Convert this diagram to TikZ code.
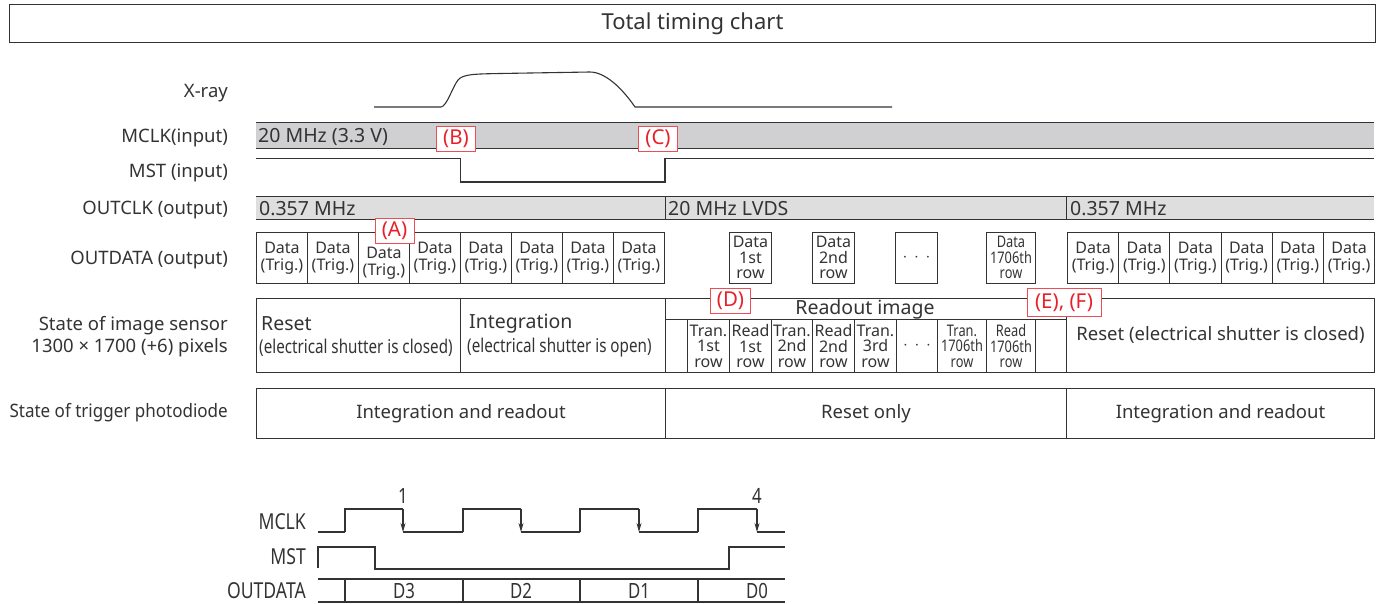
\documentclass[tikz,border=0pt]{standalone}
\usepackage{fontspec}
\setmainfont{Noto Sans}
\newfontfamily\narrowfont[FakeStretch=0.8]{Noto Sans}
\newfontfamily\midfont[FakeStretch=0.92]{Noto Sans}
\usetikzlibrary{arrows.meta}
\definecolor{ink}{HTML}{333333}
\definecolor{tagred}{HTML}{E8202A}
\definecolor{barA}{HTML}{D0D0D2}
\definecolor{barB}{HTML}{DEDEDE}
\tikzset{
  frame/.style={draw=ink, line width=1pt, inner sep=0pt, anchor=north west, align=center},
  bar/.style={fill=#1, inner sep=0pt, anchor=north west},
  lbl/.style={anchor=east, inner sep=0pt, yshift=-2pt, font=\fontsize{18.5}{22}\selectfont},
  val/.style={anchor=west, inner sep=0pt, yshift=-1.5pt, font=\fontsize{19.5}{22}\selectfont},
  small/.style={inner sep=0pt, align=center, font=\fontsize{16}{17}\selectfont},
  tiny/.style={inner sep=0pt, align=center, font=\fontsize{16}{15.5}\selectfont},
  tag/.style={draw=tagred!80, fill=white, text=tagred, inner sep=0pt, minimum height=25pt,
    font=\fontsize{20.5}{22}\selectfont},
  wave/.style={line width=1.1pt, color=ink}
}
\begin{document}
\begin{tikzpicture}[x=1pt, y=-1pt, color=ink]
\useasboundingbox (0,0) rectangle (1382,603);

\node[frame, minimum width=1366pt, minimum height=38pt, font=\fontsize{22}{26}\selectfont] (title) at (9,4) {\raisebox{-1.5pt}{Total timing chart}};

\node[lbl] (lxray) at (228,91) {X-ray};
\node[lbl] (lmclk) at (228,136) {MCLK(input)};
\node[lbl] (lmst) at (228,171) {MST (input)};
\node[lbl] (loutclk) at (228,208) {OUTCLK (output)};
\node[lbl] (loutdata) at (228,258) {OUTDATA (output)};
\node[lbl, align=right] (lsensor) at (228,335) {State of image sensor\\1300 × 1700 (+6) pixels};
\node[lbl, font=\midfont\fontsize{18.5}{22}\selectfont] (lphoto) at (228,411) {State of trigger photodiode};

\draw[wave] (374,107) -- (441,107) .. controls (447,106) and (452,88) .. (458,80)
  .. controls (463,74) and (475,74) .. (500,73.5) -- (590,72)
  .. controls (605,72) and (622,88) .. (635,107) -- (892,107);

\node[bar=barA, minimum width=1118pt, minimum height=26pt] (mclk) at (256,122) {};
\draw (mclk.north west) -- (mclk.north east) (mclk.south west) -- (mclk.south east);
\node[val] (mclkval) at (258,135.5) {20 MHz (3.3 V)};

\draw[wave] (256,158.5) -- (460.5,158.5) -- (460.5,182) -- (665,182) -- (665,158.5) -- (1374,158.5);

\node[bar=barB, minimum width=409pt, minimum height=23pt] (oc1) at (256,196) {};
\node[bar=barB, minimum width=401pt, minimum height=23pt] (oc2) at (665,196) {};
\node[bar=barB, minimum width=308pt, minimum height=23pt] (oc3) at (1066,196) {};
\draw (oc1.north west) -- (oc3.north east) (oc1.south west) -- (oc3.south east);
\draw (oc2.north west) -- (oc2.south west) (oc3.north west) -- (oc3.south west);
\node[val] (ocval1) at (259,207.5) {0.357 MHz};
\node[val] (ocval2) at (668,207.5) {20 MHz LVDS};
\node[val] (ocval3) at (1070,207.5) {0.357 MHz};

\foreach \i/\dy in {0/0,1/0,2/5,3/0,4/0,5/0,6/0,7/0}{
  \node[frame, minimum width=51pt, minimum height=51.5pt] (dl\i) at ({256+51*\i},231.5) {};
  \node[small] at ([yshift=-\dy pt-0.5pt]dl\i.center) {Data\\(Trig.)};
}
\foreach \i in {0,...,5}{
  \node[frame, minimum width=51.2pt, minimum height=51.5pt] (dr\i) at ({1067+51.2*\i},231.5) {};
  \node[small] at ([yshift=-0.5pt]dr\i.center) {Data\\(Trig.)};
}
\node[frame, minimum width=42pt, minimum height=51.5pt, font=\fontsize{16}{15.5}\selectfont] (dm1) at (729,231.5) {Data\\1st\\row};
\node[frame, minimum width=42pt, minimum height=51.5pt, font=\fontsize{16}{15.5}\selectfont] (dm2) at (812,231.5) {Data\\2nd\\row};
\node[frame, minimum width=42pt, minimum height=51.5pt, font=\fontsize{16}{15.5}\selectfont] (dm3) at (895,231.5) {$\cdot\,\cdot\,\cdot$};
\node[frame, minimum width=49pt, minimum height=51.5pt, font=\narrowfont\fontsize{16}{15.5}\selectfont] (dm4) at (986,231.5) {Data\\1706th\\row};

\node[frame, minimum width=204pt, minimum height=74.5pt] (sreset) at (256,297.5) {};
\node[frame, minimum width=205pt, minimum height=74.5pt] (sinteg) at (460,297.5) {};
\node[frame, minimum width=401pt, minimum height=74.5pt] (sread) at (665,297.5) {};
\node[frame, minimum width=308pt, minimum height=74.5pt, font=\fontsize{18.5}{22}\selectfont] (sreset2) at (1066,297.5) {\raisebox{-2pt}{Reset (electrical shutter is closed)}};
\node[val] (tresetA) at (261,322) {Reset};
\node[val, font=\narrowfont\fontsize{19}{22}\selectfont] (tresetB) at (259,346) {(electrical shutter is closed)};
\node[val] (tintegA) at (469,322) {Integration};
\node[val, font=\narrowfont\fontsize{19}{22}\selectfont] (tintegB) at (467,346) {(electrical shutter is open)};
\draw ([yshift=-21.8pt]sread.north west) -- ([yshift=-21.8pt]sread.north east);
\node[val, anchor=center] (treadout) at (865,308) {Readout image};
\foreach \x/\w/\t [count=\k] in {687/42/{Tran.\\1st\\row}, 729/42/{Read\\1st\\row},
    771/41/{Tran.\\2nd\\row}, 812/42/{Read\\2nd\\row}, 854/42/{Tran.\\3rd\\row},
    896/41/{$\cdot\,\cdot\,\cdot$}}
  \node[frame, tiny, minimum width=\w pt, minimum height=52.7pt] (rc\k) at (\x,319.3) {\t};
\node[frame, tiny, font=\narrowfont\fontsize{16}{15.5}\selectfont, minimum width=49pt, minimum height=52.7pt] (rc7) at (937,319.3) {Tran.\\1706th\\row};
\node[frame, tiny, font=\narrowfont\fontsize{16}{15.5}\selectfont, minimum width=49pt, minimum height=52.7pt] (rc8) at (986,319.3) {Read\\1706th\\row};

\node[frame, minimum width=409pt, minimum height=49.5pt, font=\fontsize{18.5}{22}\selectfont] (pd1) at (256,388) {\raisebox{-1.5pt}{Integration and readout}};
\node[frame, minimum width=401pt, minimum height=49.5pt, font=\fontsize{18.5}{22}\selectfont] (pd2) at (665,388) {\raisebox{-1.5pt}{Reset only}};
\node[frame, minimum width=308pt, minimum height=49.5pt, font=\fontsize{18.5}{22}\selectfont] (pd3) at (1066,388) {\raisebox{-1.5pt}{Integration and readout}};

\node[tag, minimum width=39pt] (tagA) at (394.5,231) {(A)};
\node[tag, minimum width=39pt] (tagB) at (456,138.5) {(B)};
\node[tag, minimum width=39pt] (tagC) at (658,138.5) {(C)};
\node[tag, minimum width=40pt] (tagD) at (730.5,301) {(D)};
\node[tag, minimum width=74pt, minimum height=28pt] (tagEF) at (1064,302.5) {(E), (F)};

\node[lbl, font=\narrowfont\fontsize{22}{24}\selectfont] (bmclk) at (306,520) {MCLK};
\node[lbl, font=\narrowfont\fontsize{22}{24}\selectfont] (bmst) at (306,555) {MST};
\node[lbl, font=\narrowfont\fontsize{22}{24}\selectfont] (bout) at (306,589) {OUTDATA};
\draw[wave] (318,532) -- (345,532);
\foreach \r/\f/\n in {345/403/463, 463/521/580, 580/639/698, 698/757/785}{
  \draw[wave] (\r,532) -- (\r,509) -- (\f,509);
  \draw[wave, -{Stealth[length=9pt,width=5pt]}] (\f,509) -- (\f,532);
  \draw[wave] (\f,532) -- (\n,532);
}
\node[font=\narrowfont\fontsize{21}{24}\selectfont] (n1) at (403,496) {1};
\node[font=\narrowfont\fontsize{21}{24}\selectfont] (n4) at (757,496) {4};
\draw[wave] (318,568) -- (318,547) -- (375,547) -- (375,569) -- (729,569) -- (729,547) -- (785,547);
\draw[wave] (318,579) -- (785,579) (318,602) -- (785,602);
\foreach \x in {345,463,580,698} \draw[wave] (\x,579) -- (\x,602);
\foreach \x/\t in {404/D3,521/D2,639/D1,757/D0}
  \node[font=\narrowfont\fontsize{21}{24}\selectfont] (out\t) at (\x,591) {\t};
\end{tikzpicture}
\end{document}
